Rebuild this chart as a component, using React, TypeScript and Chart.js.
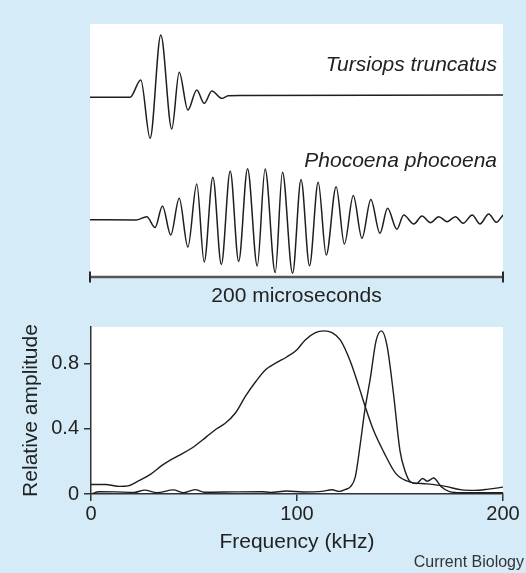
import React, { useEffect, useRef } from 'react';
import { Chart, registerables } from 'chart.js';

Chart.register(...registerables);

// ---------- Waveforms (time in microseconds, relative amplitude) ----------
const tursiopsTime = [0, 19.4, 24.6, 29.1, 34.3, 39.6, 43.2, 47.4, 51.7, 55.3, 59.0, 63.9, 66.9, 72.7, 200];
const tursiopsAmp = [-0.02, -0.02, 0.262, -0.693, 1.0, -0.541, 0.389, -0.23, 0.098, -0.12, 0.082, -0.038, 0.005, 0.008, 0.016];

const phocoenaTime = [
  0, 22.3, 27.5, 31.5, 35.1, 39.1, 43.2, 47.4, 51.7, 55.3, 59.5, 63.6, 67.9, 72.0, 76.3, 81.0, 84.8, 89.7,
  93.2, 98.1, 102.2, 106.3, 110.5, 114.4, 119.2, 123.2, 127.5, 131.7, 136.0, 140.4, 144.1, 148.6, 151.9,
  156.8, 160.8, 164.8, 168.9, 172.9, 177.0, 180.7, 185.1, 188.8, 193.1, 196.8, 200,
];
const phocoenaAmp = [
  -0.005, -0.008, 0.046, -0.131, 0.221, -0.254, 0.348, -0.451, 0.582, -0.697, 0.692, -0.738, 0.795, -0.689,
  0.833, -0.762, 0.828, -0.869, 0.774, -0.882, 0.656, -0.757, 0.61, -0.582, 0.538, -0.402, 0.393, -0.308,
  0.328, -0.226, 0.184, -0.161, 0.074, -0.074, 0.057, -0.052, 0.046, -0.036, 0.046, -0.062, 0.074, -0.074,
  0.09, -0.046, 0.074,
];
const TURSIOPS_OFFSET = 0;
const PHOCOENA_OFFSET = -2.024;

// ---------- Spectra (frequency kHz, relative amplitude) ----------
const broadFreq = [0, 7, 14, 18, 23, 29, 35, 42, 49, 56, 61, 65, 70, 75, 80, 85, 90, 95, 100, 104, 109, 113, 117, 121, 126, 130, 133, 137, 142, 148, 155, 163, 172, 180, 186, 193, 200];
const broadAmp = [0.058, 0.058, 0.047, 0.05, 0.08, 0.122, 0.18, 0.232, 0.282, 0.35, 0.4, 0.432, 0.495, 0.6, 0.69, 0.765, 0.805, 0.84, 0.885, 0.945, 0.99, 1.0, 0.99, 0.945, 0.81, 0.66, 0.54, 0.395, 0.26, 0.125, 0.073, 0.062, 0.047, 0.025, 0.022, 0.03, 0.042];

const narrowFreq = [0, 4, 12, 21, 26, 32, 40, 45, 50.5, 55, 70, 83, 87, 95, 103, 112, 117, 120.5, 123.5, 126, 128.3, 130.7, 133, 135.6, 138.4, 141, 143.7, 146.9, 150, 152.5, 155, 158, 161, 163.3, 166.3, 170, 174, 180, 200];
const narrowAmp = [0.0, 0.014, 0.013, 0.01, 0.024, 0.008, 0.025, 0.008, 0.027, 0.011, 0.013, 0.014, 0.01, 0.018, 0.012, 0.016, 0.026, 0.016, 0.028, 0.045, 0.105, 0.305, 0.52, 0.71, 0.94, 1.0, 0.91, 0.608, 0.265, 0.14, 0.075, 0.064, 0.095, 0.078, 0.098, 0.045, 0.015, 0.008, 0.008];

const freqTicks = [0, 100, 200];
const ampTicks = [0, 0.4, 0.8];

const BLUE = '#d5ecf8';
const INK = '#1e1e1e';
const FONT = '"Liberation Sans", Arial, Helvetica, sans-serif';

const whitePanel = {
  id: 'whitePanel',
  beforeDraw(chart: any) {
    const { ctx, chartArea: a } = chart;
    ctx.save();
    ctx.fillStyle = '#ffffff';
    ctx.fillRect(a.left, a.top, a.right - a.left, a.bottom - a.top);
    ctx.restore();
  },
};

const topDecor = {
  id: 'topDecor',
  afterDraw(chart: any) {
    const { ctx, chartArea: a } = chart;
    const xs = chart.scales.x;
    const x0 = xs.getPixelForValue(0);
    const x1 = xs.getPixelForValue(200);
    const yb = a.bottom;
    ctx.save();
    ctx.strokeStyle = '#555555';
    ctx.lineWidth = 2.5;
    ctx.beginPath();
    ctx.moveTo(x0, yb);
    ctx.lineTo(x1, yb);
    ctx.stroke();
    ctx.strokeStyle = '#2a2a2a';
    ctx.lineWidth = 2;
    ctx.beginPath();
    ctx.moveTo(x0, yb - 5.5);
    ctx.lineTo(x0, yb + 5.5);
    ctx.moveTo(x1, yb - 5.5);
    ctx.lineTo(x1, yb + 5.5);
    ctx.stroke();
    ctx.fillStyle = '#222222';
    ctx.textAlign = 'center';
    ctx.textBaseline = 'alphabetic';
    ctx.font = `21px ${FONT}`;
    ctx.fillText('200 microseconds', (x0 + x1) / 2, 301.5);
    ctx.textAlign = 'right';
    ctx.font = `italic 21px ${FONT}`;
    ctx.fillText('Tursiops truncatus', x1 - 6, 71);
    ctx.fillText('Phocoena phocoena', x1 - 6, 166.5);
    ctx.restore();
  },
};

const credit = {
  id: 'credit',
  afterDraw(chart: any) {
    const { ctx } = chart;
    ctx.save();
    ctx.fillStyle = '#333333';
    ctx.textAlign = 'right';
    ctx.textBaseline = 'alphabetic';
    ctx.font = `16px ${FONT}`;
    ctx.fillText('Current Biology', 524, 257);
    ctx.restore();
  },
};

export default function App() {
  const topRef = useRef<HTMLCanvasElement>(null);
  const botRef = useRef<HTMLCanvasElement>(null);

  useEffect(() => {
    document.body.style.margin = '0';
    Chart.defaults.font.family = FONT;

    const lineStyle = {
      borderColor: INK,
      borderWidth: 1.5,
      pointRadius: 0,
      fill: false,
      cubicInterpolationMode: 'monotone' as const,
    };

    const top = new Chart(topRef.current!, {
      type: 'line',
      data: {
        datasets: [
          { ...lineStyle, data: tursiopsTime.map((t, i) => ({ x: t, y: tursiopsAmp[i] + TURSIOPS_OFFSET })) },
          { ...lineStyle, data: phocoenaTime.map((t, i) => ({ x: t, y: phocoenaAmp[i] + PHOCOENA_OFFSET })) },
        ],
      },
      options: {
        responsive: false,
        devicePixelRatio: 1,
        animation: false,
        layout: { padding: { left: 90, right: 23, top: 24, bottom: 33 } },
        plugins: { legend: { display: false }, tooltip: { enabled: false } },
        scales: {
          x: { type: 'linear', min: 0, max: 200, display: false },
          y: { type: 'linear', min: -2.967, max: 1.181, display: false },
        },
      },
      plugins: [whitePanel, topDecor],
    });

    const bot = new Chart(botRef.current!, {
      type: 'line',
      data: {
        datasets: [
          { ...lineStyle, borderWidth: 1.4, data: broadFreq.map((f, i) => ({ x: f, y: broadAmp[i] })) },
          { ...lineStyle, borderWidth: 1.4, data: narrowFreq.map((f, i) => ({ x: f, y: narrowAmp[i] })) },
        ],
      },
      options: {
        responsive: false,
        devicePixelRatio: 1,
        animation: false,
        layout: { padding: { left: 0, right: 23, top: 15, bottom: 0 } },
        plugins: { legend: { display: false }, tooltip: { enabled: false } },
        scales: {
          x: {
            type: 'linear',
            min: 0,
            max: 200,
            afterBuildTicks: (s: any) => {
              s.ticks = freqTicks.map((v) => ({ value: v }));
            },
            afterFit: (s: any) => {
              s.height = 79;
            },
            grid: { drawOnChartArea: false, drawTicks: true, tickLength: 7, color: '#333333', lineWidth: 1.5 },
            border: { display: true, color: '#333333', width: 1.5 },
            ticks: { font: { size: 20 }, color: '#222222', padding: 1, maxRotation: 0, autoSkip: false },
            title: {
              display: true,
              text: 'Frequency (kHz)',
              font: { size: 21 },
              color: '#222222',
              padding: { top: 0, bottom: 18 },
            },
          },
          y: {
            type: 'linear',
            min: 0,
            max: 1.024,
            afterBuildTicks: (s: any) => {
              s.ticks = ampTicks.map((v) => ({ value: v }));
            },
            afterFit: (s: any) => {
              s.width = 91;
            },
            grid: { drawOnChartArea: false, drawTicks: true, tickLength: 7, color: '#333333', lineWidth: 1.5 },
            border: { display: true, color: '#333333', width: 1.5 },
            ticks: { font: { size: 20 }, color: '#222222', padding: 5, autoSkip: false },
            title: {
              display: true,
              text: 'Relative amplitude',
              font: { size: 21 },
              color: '#222222',
              padding: { top: 19, bottom: 0 },
            },
          },
        },
      },
      plugins: [whitePanel, credit],
    });

    return () => {
      top.destroy();
      bot.destroy();
    };
  }, []);

  return (
    <div
      style={{
        position: 'absolute',
        left: 0,
        top: 0,
        width: 526,
        height: 573,
        background: BLUE,
        overflow: 'hidden',
      }}
    >
      <canvas
        ref={topRef}
        width={526}
        height={310}
        style={{ position: 'absolute', left: 0, top: 0, width: 526, height: 310 }}
      />
      <canvas
        ref={botRef}
        width={526}
        height={263}
        style={{ position: 'absolute', left: 0, top: 310, width: 526, height: 263 }}
      />
    </div>
  );
}
